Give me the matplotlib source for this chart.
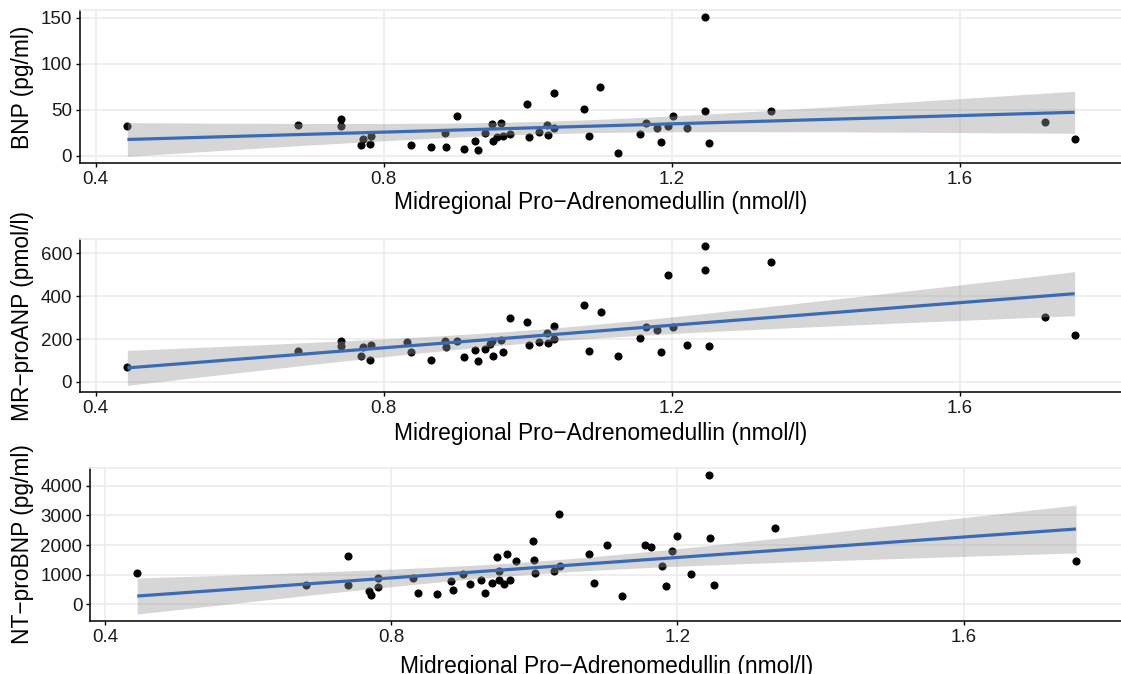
import numpy as np
import matplotlib
matplotlib.use("Agg")
import matplotlib.pyplot as plt

plt.rcParams['font.family'] = ['Liberation Sans', 'DejaVu Sans']

# MR-proADM (nmol/l) vs BNP (pg/ml)
bnp_adm = [0.444, 0.681, 0.741, 0.740, 0.771, 0.782, 0.769, 0.781, 0.838, 0.865,
           0.887, 0.885, 0.901, 0.911, 0.926, 0.931, 0.941, 0.950, 0.962, 0.951,
           0.957, 0.966, 0.975, 0.999, 1.001, 1.015, 1.026, 1.036, 1.028, 1.036,
           1.078, 1.085, 1.100, 1.125, 1.156, 1.164, 1.179, 1.185, 1.195, 1.201,
           1.221, 1.246, 1.246, 1.252, 1.337, 1.718, 1.759]
bnp = [32, 34, 40, 32, 18, 21.6, 11.6, 13.4, 12.3, 9.4,
       9.7, 24.5, 43.6, 7.6, 15.9, 6.2, 24.5, 34.2, 35.3, 16.2,
       21, 21.6, 23.8, 56.2, 21, 26, 34, 30, 22.4, 68,
       50.6, 22, 74.5, 3.6, 23.8, 36, 30.2, 15.5, 32.8, 43.6,
       30, 150.5, 48.3, 14.4, 49, 37, 18.8]

# MR-proADM vs MR-proANP (pmol/l)
anp_adm = [0.444, 0.681, 0.741, 0.740, 0.771, 0.782, 0.769, 0.781, 0.832, 0.838,
           0.865, 0.885, 0.887, 0.901, 0.911, 0.926, 0.931, 0.941, 0.950, 0.962,
           0.951, 0.947, 0.966, 0.975, 0.999, 1.001, 1.015, 1.026, 1.036, 1.028,
           1.036, 1.078, 1.085, 1.101, 1.125, 1.156, 1.164, 1.179, 1.185, 1.195,
           1.201, 1.221, 1.246, 1.246, 1.252, 1.337, 1.718, 1.759]
mr_proanp = [70, 144, 193, 166, 161, 170, 119, 104, 187, 140,
             104, 189, 163, 189, 115, 149, 96, 155, 192, 195,
             119, 177, 141, 296, 279, 172, 184, 226, 262, 181,
             201, 358, 142, 326, 121, 207, 256, 240, 141, 499,
             257, 172, 634, 522, 169, 558, 305, 218]

# MR-proADM vs NT-proBNP (pg/ml)
nt_adm = [0.445, 0.6815, 0.739, 0.740, 0.769, 0.771, 0.781, 0.782, 0.831, 0.838,
          0.864, 0.883, 0.886, 0.900, 0.910, 0.926, 0.931, 0.941, 0.948, 0.950,
          0.951, 0.957, 0.962, 0.966, 0.974, 0.998, 1.000, 1.001, 1.027, 1.036,
          1.035, 1.077, 1.084, 1.101, 1.123, 1.154, 1.163, 1.178, 1.184, 1.193,
          1.200, 1.219, 1.244, 1.245, 1.251, 1.336, 1.757]
nt_probnp = [1042, 650, 1636, 639, 437, 314, 874, 571, 885, 392,
             336, 773, 493, 1008, 683, 829, 381, 706, 1591, 1109,
             806, 695, 1703, 806, 1468, 2129, 1490, 1064, 1109, 1288,
             3036, 1681, 706, 1994, 291, 2017, 1938, 1288, 605, 1804,
             2308, 1008, 4370, 2229, 639, 2565, 1468]

x_title = "Midregional Pro\u2212Adrenomedullin (nmol/l)"
y_titles = ["BNP (pg/ml)", "MR\u2212proANP (pmol/l)", "NT\u2212proBNP (pg/ml)"]
x_ticks = [0.4, 0.8, 1.2, 1.6]
y_ticks = [[0, 50, 100, 150], [0, 200, 400, 600], [0, 1000, 2000, 3000, 4000]]

panels = [(bnp_adm, bnp), (anp_adm, mr_proanp), (nt_adm, nt_probnp)]


def t_crit(df):
    try:
        from scipy import stats
        return stats.t.ppf(0.975, df)
    except Exception:
        return 2.013


def lm_fit(x, y, n=80):
    x = np.asarray(x, float)
    y = np.asarray(y, float)
    b1, b0 = np.polyfit(x, y, 1)
    resid = y - (b0 + b1 * x)
    dof = len(x) - 2
    s = np.sqrt(np.sum(resid ** 2) / dof)
    xg = np.linspace(x.min(), x.max(), n)
    se = s * np.sqrt(1 / len(x) + (xg - x.mean()) ** 2 / np.sum((x - x.mean()) ** 2))
    yg = b0 + b1 * xg
    tc = t_crit(dof)
    return xg, yg, yg - tc * se, yg + tc * se


W, H = 1121, 674
fig = plt.figure(figsize=(W / 100, H / 100), dpi=100)

# axes boxes in pixels: left, right, top, bottom, x-title baseline offset
boxes = [(80, 1122, 10.4, 163.3, 45.5),
         (80, 1122, 239, 392.3, 48.0),
         (90.3, 1123, 468, 621, 52.0)]

grid_c = "#EBEBEB"
for i, ((xs, ys), (l, r, t, b, off)) in enumerate(zip(panels, boxes)):
    ax = fig.add_axes([l / W, 1 - b / H, (r - l) / W, (b - t) / H])
    xs = np.asarray(xs, float)
    ys = np.asarray(ys, float)
    xg, yg, lo, hi = lm_fit(xs, ys)

    ax.scatter(xs, ys, s=34, color="black", linewidths=0, zorder=2)
    ax.fill_between(xg, lo, hi, color="#999999", alpha=0.4, linewidth=0, zorder=3)
    ax.plot(xg, yg, color="#3A6BB5", lw=2.3, zorder=4, solid_capstyle="butt")

    xmin, xmax = xs.min(), xs.max()
    dx = (xmax - xmin) * 0.05
    ax.set_xlim(xmin - dx, xmax + dx)
    ymin = min(ys.min(), lo.min())
    ymax = max(ys.max(), hi.max())
    dy = (ymax - ymin) * 0.05
    ax.set_ylim(ymin - dy, ymax + dy)

    ax.set_xticks(x_ticks)
    ax.set_xticklabels([f"{v:.1f}" for v in x_ticks])
    ax.set_yticks(y_ticks[i])
    ax.set_yticklabels([str(v) for v in y_ticks[i]])
    ax.grid(True, color=grid_c, lw=1.2, zorder=0)
    ax.set_axisbelow(True)

    ax.spines["right"].set_visible(False)
    ax.spines["top"].set_color(grid_c)
    ax.spines["top"].set_linewidth(1.2)
    for side in ("left", "bottom"):
        ax.spines[side].set_color("black")
        ax.spines[side].set_linewidth(1.1)
    ax.tick_params(axis="both", length=3.2, width=1.0, color="black",
                   labelsize=13.5, labelcolor="#1A1A1A", pad=2.5)

    fig.text(0.5 * (l + r) / W, 1 - (b + off) / H, x_title, ha="center",
             va="baseline", fontsize=16.4, color="black")
    fig.text(23 / W, 1 - 0.5 * (t + b) / H, y_titles[i], ha="center", va="center",
             rotation=90, fontsize=16.4, color="black")

fig.savefig("out.png", dpi=100)
